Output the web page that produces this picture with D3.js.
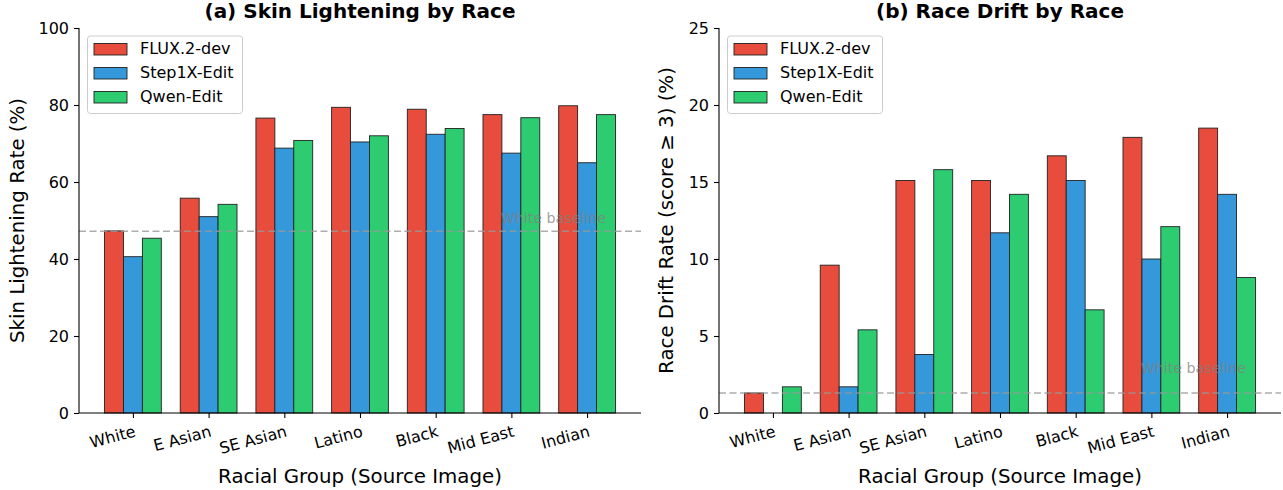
<!DOCTYPE html>
<html>
<head>
<meta charset="utf-8">
<script src="https://cdn.jsdelivr.net/npm/d3@7"></script>
<style>
  body { margin: 0; background: #fff; }
  svg { font-family: "DejaVu Sans", sans-serif; }
</style>
</head>
<body>
<svg id="chart" width="1283" height="490"></svg>
<script>
var groups = ['White', 'E Asian', 'SE Asian', 'Latino', 'Black', 'Mid East', 'Indian'];
var models = ['FLUX.2-dev', 'Step1X-Edit', 'Qwen-Edit'];
var colors = ['#e74c3c', '#3498db', '#2ecc71'];

// skin lightening rate (%)
var lightFlux = [47.3, 55.8, 76.6, 79.4, 78.9, 77.5, 79.8];
var lightStep = [40.6, 51.0, 68.8, 70.4, 72.4, 67.5, 65.0];
var lightQwen = [45.4, 54.2, 70.8, 72.0, 73.9, 76.7, 77.5];
var lightBaseline = 47.2;
var lightTicks = [0, 20, 40, 60, 80, 100];

// race drift rate (score >= 3) (%)
var driftFlux = [1.3, 9.6, 15.1, 15.1, 16.7, 17.9, 18.5];
var driftStep = [0.0, 1.7, 3.8, 11.7, 15.1, 10.0, 14.2];
var driftQwen = [1.7, 5.4, 15.8, 14.2, 6.7, 12.1, 8.8];
var driftBaseline = 1.3;
var driftTicks = [0, 5, 10, 15, 20, 25];

var svg = d3.select('#chart');
var W = 562, H = 385;
var barW = 0.25;

function panel(opts) {
    var g = svg.append('g').attr('transform', 'translate(' + opts.left + ',' + opts.top + ')');

    var x = d3.scaleLinear().domain([-0.7125, 6.7125]).range([0, W]);
    var y = d3.scaleLinear().domain([0, opts.ymax]).range([H, 0]);

    // bars
    opts.series.forEach(function (vals, j) {
        g.append('g').selectAll('rect')
            .data(vals)
            .enter().append('rect')
            .attr('x', (d, i) => x(i + (j - 1) * barW - barW / 2))
            .attr('width', x(barW) - x(0))
            .attr('y', d => y(d))
            .attr('height', d => y(0) - y(d))
            .attr('fill', colors[j])
            .attr('stroke', '#222')
            .attr('stroke-width', 0.9);
    });

    // baseline
    g.append('line')
        .attr('x1', 0).attr('x2', W)
        .attr('y1', y(opts.baseline)).attr('y2', y(opts.baseline))
        .attr('stroke', '#999').attr('stroke-opacity', 0.8)
        .attr('stroke-width', 1.5)
        .attr('stroke-dasharray', '7,3.5');
    g.append('text')
        .attr('x', x(4.86))
        .attr('y', y(opts.labelY))
        .attr('dominant-baseline', 'middle')
        .attr('font-size', 14.2)
        .attr('fill', '#808080').attr('fill-opacity', 0.75)
        .text('White baseline');

    // axes
    var yAxis = d3.axisLeft(y).tickValues(opts.ticks).tickSize(5).tickPadding(5);
    var ya = g.append('g').call(yAxis);
    var xAxis = d3.axisBottom(x).tickValues(d3.range(groups.length))
        .tickFormat(i => groups[i]).tickSize(5).tickPadding(5);
    var xa = g.append('g').attr('transform', 'translate(0,' + H + ')').call(xAxis);

    [ya, xa].forEach(function (a) {
        a.select('.domain').attr('stroke', '#000').attr('stroke-width', 1.1);
        a.selectAll('.tick line').attr('stroke', '#000').attr('stroke-width', 1.1);
        a.selectAll('text').attr('font-size', 16).attr('fill', '#000')
            .attr('font-family', '"DejaVu Sans", sans-serif');
    });
    ya.select('.domain').attr('d', 'M0,' + H + 'V0');
    xa.select('.domain').attr('d', 'M0,0H' + W);
    xa.selectAll('.tick text')
        .attr('text-anchor', 'end')
        .attr('dy', null)
        .attr('y', 0)
        .attr('dominant-baseline', 'hanging')
        .attr('transform', 'translate(0,11.5) rotate(-15)');

    // labels
    g.append('text')
        .attr('x', W / 2).attr('y', -10)
        .attr('text-anchor', 'middle')
        .attr('font-size', 20).attr('font-weight', 'bold')
        .text(opts.title);
    g.append('text')
        .attr('x', W / 2).attr('y', H + 70)
        .attr('text-anchor', 'middle')
        .attr('font-size', 19.8)
        .text('Racial Group (Source Image)');
    g.append('text')
        .attr('transform', 'translate(' + opts.ylabelX + ',' + (H / 2) + ') rotate(-90)')
        .attr('text-anchor', 'middle')
        .attr('dominant-baseline', 'middle')
        .attr('font-size', 19.8)
        .text(opts.ylabel);

    // legend
    var lg = g.append('g').attr('transform', 'translate(8.5,8)');
    lg.append('rect')
        .attr('width', 155).attr('height', 77.5)
        .attr('rx', 3)
        .attr('fill', '#fff').attr('fill-opacity', 0.8)
        .attr('stroke', '#ccc').attr('stroke-width', 1);
    models.forEach(function (m, j) {
        lg.append('rect')
            .attr('x', 6.5).attr('y', 7.5 + j * 24)
            .attr('width', 33).attr('height', 11.5)
            .attr('fill', colors[j])
            .attr('stroke', '#222').attr('stroke-width', 0.9);
        lg.append('text')
            .attr('x', 52.5).attr('y', 13.5 + j * 24)
            .attr('dominant-baseline', 'middle')
            .attr('font-size', 16)
            .text(m);
    });
}

panel({
    left: 79, top: 28, ymax: 100, ticks: lightTicks,
    series: [lightFlux, lightStep, lightQwen],
    baseline: lightBaseline, labelY: 50.4,
    title: '(a) Skin Lightening by Race',
    ylabel: 'Skin Lightening Rate (%)', ylabelX: -61
});

panel({
    left: 719, top: 28, ymax: 25, ticks: driftTicks,
    series: [driftFlux, driftStep, driftQwen],
    baseline: driftBaseline, labelY: 2.84,
    title: '(b) Race Drift by Race',
    ylabel: 'Race Drift Rate (score \u2265 3) (%)', ylabelX: -52
});
</script>
</body>
</html>
